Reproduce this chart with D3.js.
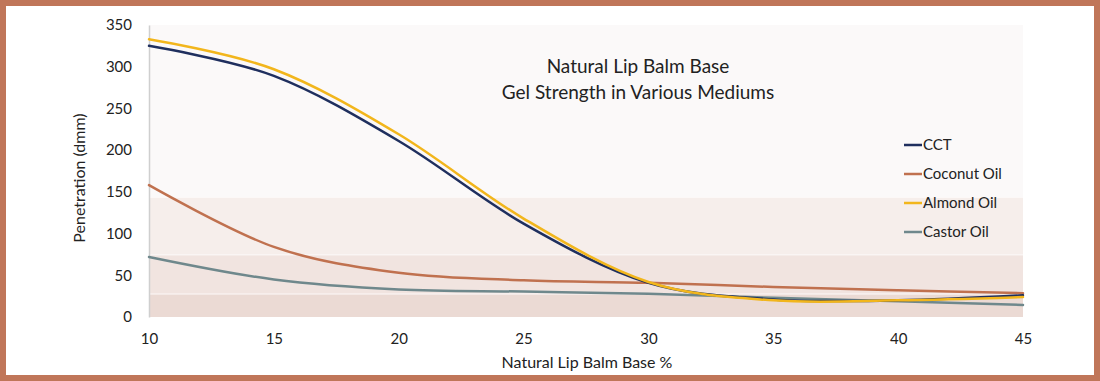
<!DOCTYPE html>
<html><head><meta charset="utf-8">
<script src="https://cdn.jsdelivr.net/npm/d3@7"></script>
<style>html,body{margin:0;padding:0;background:#fff;}svg{display:block;font-family:Lato,"Open Sans",sans-serif;}</style>
</head><body>
<svg id="chart" width="1100" height="381"></svg>
<script>
const xValues = [10, 15, 20, 25, 30, 35, 40, 45];
const cct     = [325, 289, 211, 112, 41, 21, 20, 26];
const coconut = [158, 84, 53, 44, 41, 36, 32, 28.5];
const almond  = [333, 297, 219, 118, 42, 20, 20, 24];
const castor  = [72, 45, 33, 30.5, 28, 23, 19, 14.5];
const seriesNames = ["CCT", "Coconut Oil", "Almond Oil", "Castor Oil"];
const seriesColors = ["#1f2f5e", "#c0714f", "#f2b61c", "#6f888c"];
const xTicks = [10, 15, 20, 25, 30, 35, 40, 45];
const yTicks = [0, 50, 100, 150, 200, 250, 300, 350];
const bandEdges = [0, 28, 75, 144, 350];
const bandColors = ["#ebdad4", "#f1e4e0", "#f6eeeb", "#fbf9f9"];
const titleLines = ["Natural Lip Balm Base", "Gel Strength in Various Mediums"];

(function () {
const svg = d3.select("#chart");
const pL = 149, pR = 1023, pT = 25, pB = 317;
const x = d3.scaleLinear().domain([10, 45]).range([pL, pR]);
const y = d3.scaleLinear().domain([0, 350]).range([pB, pT]);

// bands
svg.selectAll("rect.band").data(bandColors).enter().append("rect")
  .attr("class", "band")
  .attr("x", pL).attr("width", pR - pL)
  .attr("y", (d, i) => y(bandEdges[i + 1]))
  .attr("height", (d, i) => y(bandEdges[i]) - y(bandEdges[i + 1]))
  .attr("fill", d => d);
svg.selectAll("line.sep").data(bandEdges.slice(1, 4)).enter().append("line")
  .attr("class", "sep")
  .attr("x1", pL).attr("x2", pR)
  .attr("y1", d => y(d) + 0.5).attr("y2", d => y(d) + 0.5)
  .attr("stroke", "#ffffff").attr("stroke-opacity", 0.7).attr("stroke-width", 1);

// y axis
const yAxis = d3.axisLeft(y).tickValues(yTicks).tickSize(0).tickPadding(17);
const gy = svg.append("g").attr("transform", `translate(${pL},0)`).call(yAxis);
gy.select(".domain").attr("stroke", "#cfcfcf").attr("stroke-width", 1.5);
gy.selectAll("text").attr("font-size", 15).attr("fill", "#222").attr("font-family", "Lato, sans-serif");

// x axis
const xAxis = d3.axisBottom(x).tickValues(xTicks).tickSize(0).tickPadding(16);
const gx = svg.append("g").attr("transform", `translate(0,${pB})`).call(xAxis);
gx.select(".domain").remove();
gx.selectAll("text").attr("font-size", 15).attr("fill", "#222").attr("font-family", "Lato, sans-serif");

// lines
const allSeries = [cct, coconut, almond, castor];
const line = d3.line().x((d, i) => x(xValues[i])).y(d => y(d)).curve(d3.curveCardinal.tension(0));
const drawOrder = [1, 3, 0, 2];
drawOrder.forEach(k => {
  svg.append("path").datum(allSeries[k])
    .attr("d", line)
    .attr("fill", "none")
    .attr("stroke", seriesColors[k])
    .attr("stroke-width", 2.5)
    .attr("stroke-linecap", "round");
});

// legend
const lg = svg.append("g");
seriesNames.forEach((n, i) => {
  const ly = 145 + i * 29;
  lg.append("line").attr("x1", 904).attr("x2", 922).attr("y1", ly).attr("y2", ly)
    .attr("stroke", seriesColors[i]).attr("stroke-width", 2.5);
  lg.append("text").attr("x", 923).attr("y", ly + 5).text(n)
    .attr("font-size", 15).attr("fill", "#222");
});

// title
svg.selectAll("text.title").data(titleLines).enter().append("text")
  .attr("class", "title")
  .attr("x", 638).attr("y", (d, i) => 73 + i * 26)
  .attr("text-anchor", "middle").attr("font-size", 19).attr("fill", "#222")
  .text(d => d);

// axis titles
svg.append("text").attr("x", 587).attr("y", 368).attr("text-anchor", "middle")
  .attr("font-size", 16).attr("fill", "#222").text("Natural Lip Balm Base %");
svg.append("text").attr("transform", "translate(85,178) rotate(-90)").attr("text-anchor", "middle")
  .attr("font-size", 16).attr("fill", "#222").text("Penetration (dmm)");

// frame
svg.append("rect").attr("x", 3).attr("y", 3).attr("width", 1094).attr("height", 375)
  .attr("fill", "none").attr("stroke", "#c07659").attr("stroke-width", 6);
})();
</script>
</body></html>
